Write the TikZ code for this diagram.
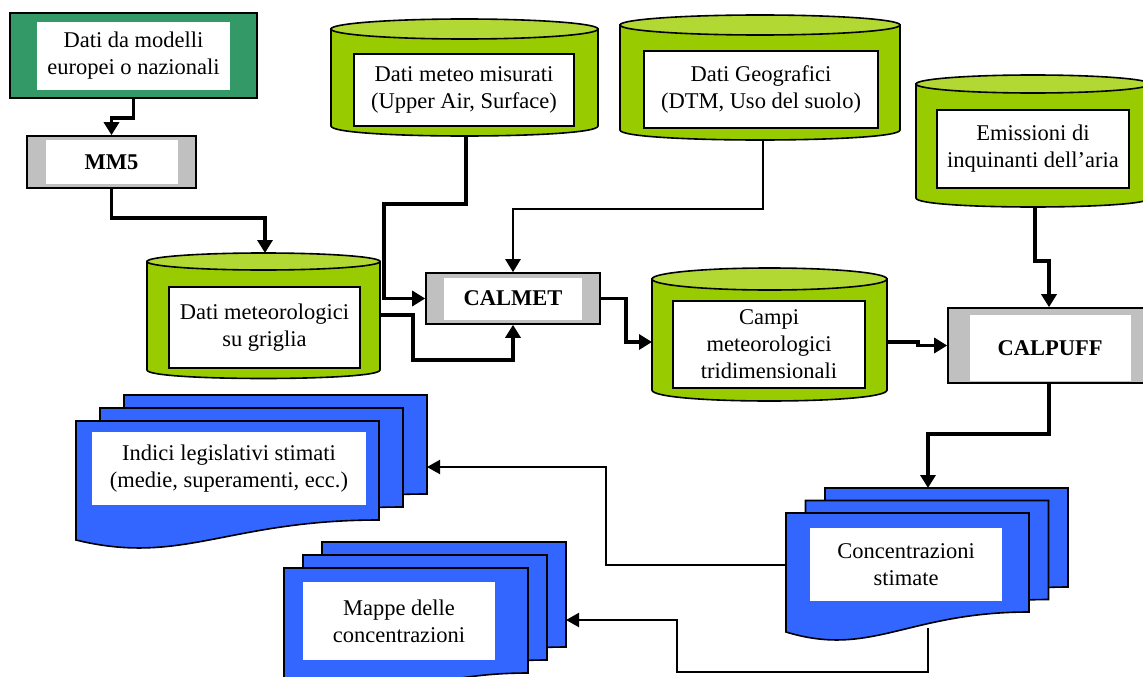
\documentclass[tikz,border=0pt]{standalone}
\usepackage{fontspec}
\setmainfont{Liberation Serif}
\usetikzlibrary{arrows.meta}
\definecolor{srcgreen}{RGB}{51,153,102}
\definecolor{cylgreen}{RGB}{153,204,0}
\definecolor{cyltopgreen}{RGB}{178,216,52}
\definecolor{boxgrey}{RGB}{192,192,192}
\definecolor{docblue}{RGB}{51,102,255}
\newcommand{\datacyl}[5]{%
  \filldraw[cylbody] (#1,#3) -- (#1,#4) .. controls (#1,{#4+1.333*#5}) and (#2,{#4+1.333*#5}) .. (#2,#4) -- (#2,#3) -- cycle;
  \filldraw[cyltop] ({(#1+#2)/2},#3) ellipse [x radius={(#2-#1)/2}, y radius=#5];}
\newcommand{\docpage}[4]{%
  \filldraw[docpage] ({#1},{#2}) -- ({#1+#3},{#2}) -- ({#1+#3},{#2+#4})
    .. controls ({#1+0.5*#3},{#2+#4}) and ({#1+0.35*#3},{#2+#4+46}) .. ({#1},{#2+#4+20}) -- cycle;}
\newcommand{\docstack}[6]{%
  \docpage{#1+2*#5}{#2-2*#6}{#3}{#4}%
  \docpage{#1+#5}{#2-#6}{#3}{#4}%
  \docpage{#1}{#2}{#3}{#4}}
\begin{document}
\begin{tikzpicture}[x=1pt,y=-1pt,font=\fontsize{22.5}{27}\selectfont]
	\tikzstyle{srcbox}=[draw,fill=srcgreen,line width=1.6pt,inner sep=0pt]
	\tikzstyle{procbox}=[draw,fill=boxgrey,line width=1.6pt,inner sep=0pt]
	\tikzstyle{cylbody}=[draw,fill=cylgreen,line width=1.6pt]
	\tikzstyle{cyltop}=[draw,fill=cyltopgreen,line width=1.6pt]
	\tikzstyle{docpage}=[draw,fill=docblue,line width=1.6pt]
	\tikzstyle{inbox}=[draw,fill=white,line width=1.6pt,inner sep=0pt,align=center]
	\tikzstyle{inplain}=[fill=white,inner sep=0pt,align=center]
	\tikzstyle{conn}=[line width=3.2pt,-{Triangle[length=13pt,width=15pt]}]
	\tikzstyle{thinconn}=[line width=2.1pt,-{Triangle[length=13pt,width=14pt]}]
	\useasboundingbox (0,0) rectangle (1143,677);

	\node[srcbox,minimum width=247pt,minimum height=85pt] (src) at (133.5,55.5) {};
	\node[inplain,minimum width=193pt,minimum height=68pt] (src_t) at (133.5,56) {Dati da modelli\\europei o nazionali};
	\node[procbox,minimum width=169pt,minimum height=52pt] (mm5) at (111.5,162) {};
	\node[inplain,minimum width=132pt,minimum height=44pt] (mm5_t) at (111.5,162) {\bfseries MM5};
	\node[procbox,minimum width=174pt,minimum height=51pt] (calmet) at (513,298.5) {};
	\node[inplain,minimum width=138pt,minimum height=42pt] (calmet_t) at (513,298.5) {\bfseries CALMET};
	\node[procbox,minimum width=202pt,minimum height=75pt] (calpuff) at (1049,345.5) {};
	\node[inplain,minimum width=161pt,minimum height=66pt] (calpuff_t) at (1050,348) {\bfseries CALPUFF};

	\datacyl{331}{598}{29}{126}{10}
	\node[inbox,minimum width=220pt,minimum height=72pt] (meteo) at (464,90) {Dati meteo misurati\\(Upper Air, Surface)};
	\datacyl{620}{900}{25}{130}{10}
	\node[inbox,minimum width=234pt,minimum height=77pt] (geo) at (761,89.5) {Dati Geografici\\(DTM, Uso del suolo)};
	\datacyl{916}{1150}{84}{198}{9}
	\node[inbox,minimum width=192pt,minimum height=78pt] (emis) at (1033,149) {Emissioni di\\inquinanti dell’aria};
	\datacyl{147}{380}{261.5}{370}{8.5}
	\node[inbox,minimum width=191pt,minimum height=81pt] (grid) at (264.5,327.5) {Dati meteorologici\\su griglia};
	\datacyl{652}{887}{279}{390}{11}
	\node[inbox,minimum width=192pt,minimum height=87pt] (campi) at (769,344.5) {Campi\\meteorologici\\tridimensionali};

	\docstack{76}{421}{303}{99}{24}{13}
	\node[inplain,minimum width=274pt,minimum height=73pt] (indici) at (229,468.5) {Indici legislativi stimati\\(medie, superamenti, ecc.)};
	\docstack{786}{513}{243}{99}{19.5}{12.5}
	\node[inplain,minimum width=192pt,minimum height=73pt] (conc) at (906,564.5) {Concentrazioni\\stimate};
	\docstack{284}{568}{244}{105}{19}{13}
	\node[inplain,minimum width=192pt,minimum height=78pt] (mappe) at (399,621) {Mappe delle\\concentrazioni};

	\coordinate (meteo_out) at (466,135);
	\coordinate (geo_out) at (763,140);
	\coordinate (emis_out) at (1035,207);
	\coordinate (grid_in) at (265,253);
	\coordinate (grid_out) at (380,315);
	\coordinate (campi_in) at (652,342);
	\coordinate (campi_out) at (887,342);
	\coordinate (conc_in) at (928,488);
	\coordinate (conc_left) at (786,565);
	\coordinate (conc_out) at (928,628);
	\coordinate (indici_in) at (427,467);
	\coordinate (mappe_in) at (566,620);

	\draw[conn] (src.south) -- (133.5,118) -| (mm5.north);
	\draw[conn] (mm5.south) -- (111.5,218) -| (grid_in);
	\draw[conn] (meteo_out) |- (384,204) |- (calmet.west);
	\draw[conn,line width=2.4pt] (geo_out) |- (513,209) -- (calmet.north);
	\draw[conn] (grid_out) -| (413,360) -| (calmet.south);
	\draw[conn] (calmet.east) -- (626,298.5) |- (campi_in);
	\draw[conn] (campi_out) -- (918,342) |- (calpuff.west);
	\draw[conn] (emis_out) -- (1035,261) -| (calpuff.north);
	\draw[conn] (calpuff.south) -- (1049,434) -| (conc_in);
	\draw[thinconn] (conc_left) -| (606,467) -- (indici_in);
	\draw[thinconn] (conc_out) |- (677,672) |- (mappe_in);
\end{tikzpicture}
\end{document}
